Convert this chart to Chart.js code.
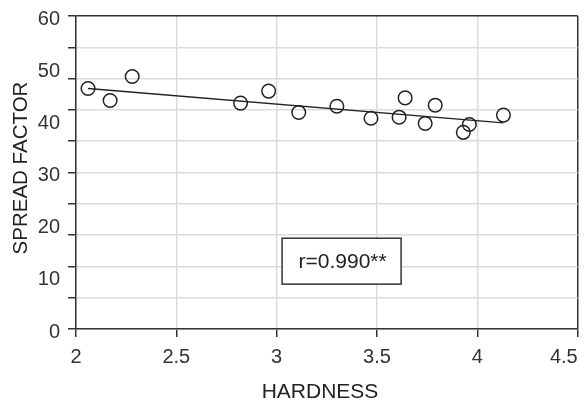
<!DOCTYPE html>
<html>
<head>
<meta charset="utf-8">
<script src="https://cdn.jsdelivr.net/npm/chart.js@4/dist/chart.umd.min.js"></script>
<style>
html,body{margin:0;padding:0;background:#fff;}
#wrap{width:586px;height:402px;}
</style>
</head>
<body>
<div id="wrap"><canvas id="c" width="586" height="402"></canvas></div>
<script>
// ---- data ----
const hardness     = [2.06, 2.17, 2.28, 2.82, 2.96, 3.11, 3.30, 3.47, 3.61, 3.64, 3.74, 3.79, 3.93, 3.96, 4.13];
const spreadFactor = [46.1, 43.8, 48.4, 43.3, 45.6, 41.5, 42.7, 40.4, 40.6, 44.3, 39.4, 42.9, 37.7, 39.2, 41.0];
const trendHardness = [2.06, 4.13];
const trendSpread   = [46.1, 39.5];
const xTickValues = [2, 2.5, 3, 3.5, 4, 4.5];
const yLabelValues = [0, 10, 20, 30, 40, 50, 60];
const yGridValues  = [0, 6, 12, 18, 24, 30, 36, 42, 48, 54, 60];
const xTitle = 'HARDNESS';
const yTitle = 'SPREAD FACTOR';
const rLabel = 'r=0.990**';

const FONT = '"Liberation Sans", Arial, Helvetica, sans-serif';
const DARK = '#333333';
const GRID = '#dcdcdc';

const points = hardness.map((h, i) => ({x: h, y: spreadFactor[i]}));
const trend = trendHardness.map((h, i) => ({x: h, y: trendSpread[i]}));
const yAllTicks = Array.from(new Set([...yGridValues, ...yLabelValues])).sort((a, b) => a - b);

const decorPlugin = {
  id: 'decor',
  afterDraw(chart, args, opts) {
    const ctx = chart.ctx;
    const xs = chart.scales.x, ys = chart.scales.y;
    // r box
    const b = opts.box;
    const x1 = xs.getPixelForValue(b.x0), x2 = xs.getPixelForValue(b.x1);
    const y1 = ys.getPixelForValue(b.y0), y2 = ys.getPixelForValue(b.y1);
    ctx.save();
    ctx.fillStyle = '#ffffff';
    ctx.fillRect(x1, y1, x2 - x1, y2 - y1);
    ctx.strokeStyle = DARK;
    ctx.lineWidth = 1.5;
    ctx.strokeRect(x1, y1, x2 - x1, y2 - y1);
    ctx.fillStyle = '#222';
    ctx.font = '21px ' + FONT;
    ctx.textAlign = 'center';
    ctx.textBaseline = 'middle';
    ctx.fillText(rLabel, (x1 + x2) / 2 + 1, (y1 + y2) / 2 + 1);
    ctx.restore();

    // axis titles
    ctx.save();
    ctx.fillStyle = '#222';
    ctx.textAlign = 'center';
    ctx.textBaseline = 'middle';
    ctx.font = '21px ' + FONT;
    ctx.fillText(xTitle, opts.xTitlePos.x, opts.xTitlePos.y);
    ctx.font = '20.5px ' + FONT;
    ctx.translate(opts.yTitlePos.x, opts.yTitlePos.y);
    ctx.rotate(-Math.PI / 2);
    ctx.fillText(yTitle, 0, 0);
    ctx.restore();
  }
};

new Chart(document.getElementById('c'), {
  type: 'scatter',
  data: {
    datasets: [
      {
        label: 'trend',
        data: trend,
        showLine: true,
        borderColor: '#222',
        borderWidth: 1.3,
        pointRadius: 0,
        pointHoverRadius: 0,
        fill: false
      },
      {
        label: 'samples',
        data: points,
        pointStyle: 'circle',
        pointRadius: 6.8,
        pointHoverRadius: 6.8,
        borderColor: '#222',
        borderWidth: 1.5,
        backgroundColor: 'rgba(0,0,0,0)'
      }
    ]
  },
  options: {
    responsive: false,
    animation: false,
    devicePixelRatio: 1,
    layout: {padding: {top: 16, right: 6, left: 0, bottom: 0}},
    plugins: {
      legend: {display: false},
      tooltip: {enabled: false},
      decor: {
        box: {x0: 3.027, x1: 3.62, y0: 17.4, y1: 8.6},
        xTitlePos: {x: 320, y: 392},
        yTitlePos: {x: 21, y: 168}
      }
    },
    scales: {
      x: {
        type: 'linear',
        min: 2,
        max: 4.5,
        afterBuildTicks: s => { s.ticks = xTickValues.map(v => ({value: v})); },
        afterFit: s => { s.height = 73; s.paddingLeft = 0; s.paddingRight = 0; },
        ticks: {
          autoSkip: false,
          maxRotation: 0,
          padding: 8,
          color: DARK,
          font: {family: FONT, size: 20},
          callback: v => (v === 4.5 ? String(v) + '     ' : String(v))
        },
        grid: {
          color: c => (c.tick && c.tick.value === 4.5 ? DARK : GRID),
          lineWidth: 1.5,
          tickColor: DARK,
          tickLength: 8,
          tickWidth: 1.5
        },
        border: {color: DARK, width: 1.5},
        title: {display: false}
      },
      y: {
        type: 'linear',
        min: 0,
        max: 60,
        afterBuildTicks: s => { s.ticks = yAllTicks.map(v => ({value: v})); },
        afterFit: s => { s.width = 76; s.paddingTop = 0; s.paddingBottom = 0; },
        ticks: {
          autoSkip: false,
          padding: 8,
          labelOffset: 3,
          color: DARK,
          font: {family: FONT, size: 20},
          callback: v => (yLabelValues.includes(v) ? String(v) : '')
        },
        grid: {
          color: c => {
            const v = c.tick ? c.tick.value : 0;
            if (!yGridValues.includes(v)) return 'rgba(0,0,0,0)';
            return v === 60 ? DARK : GRID;
          },
          lineWidth: 1.5,
          tickColor: c => (c.tick && yGridValues.includes(c.tick.value) ? DARK : 'rgba(0,0,0,0)'),
          tickLength: 8,
          tickWidth: 1.5
        },
        border: {color: DARK, width: 1.5},
        title: {display: false}
      }
    }
  },
  plugins: [decorPlugin]
});
</script>
</body>
</html>
